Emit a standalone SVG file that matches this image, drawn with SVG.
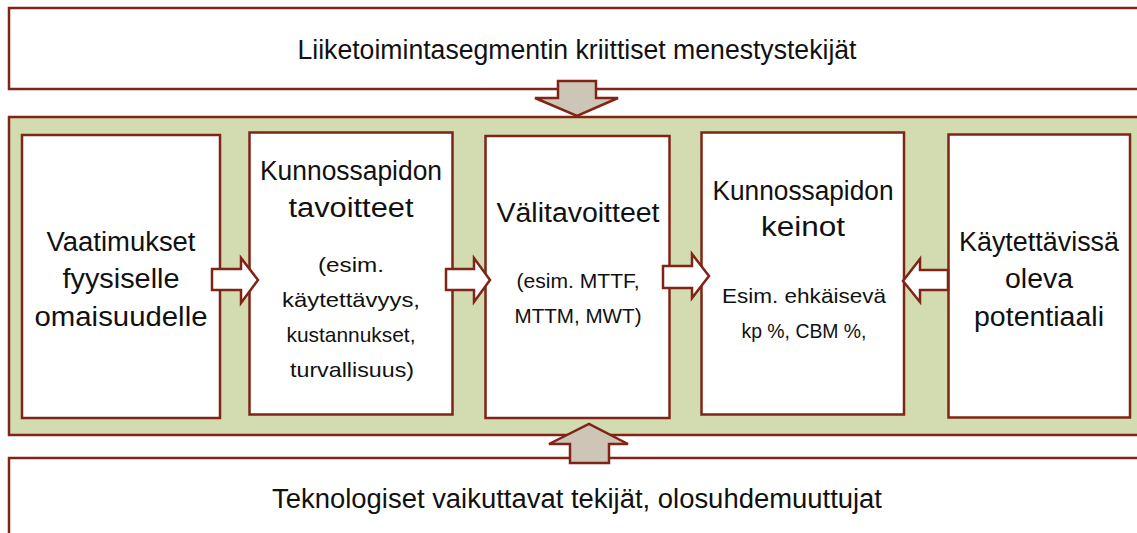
<svg xmlns="http://www.w3.org/2000/svg" width="1137" height="533" viewBox="0 0 1137 533">
  <style>
    .frame { fill: #ffffff; stroke: #7f2416; stroke-width: 2.5; }
    .band { fill: #d2dcb0; stroke: #7f2416; stroke-width: 2.5; }
    .node { fill: #ffffff; stroke: #7f2416; stroke-width: 2.5; }
    .flow { fill: #ffffff; stroke: #7f2416; stroke-width: 2.5; stroke-linejoin: miter; }
    .block { fill: #cdc6b6; stroke: #7f2416; stroke-width: 2.5; stroke-linejoin: miter; }
    text { font-family: "Liberation Sans", Arial, sans-serif; fill: #111111; text-anchor: middle; }
    .big { font-size: 27px; }
    .small { font-size: 21px; }
  </style>

  <!-- outer bands -->
  <g id="success-factors">
    <rect class="frame" x="9" y="8" width="1140" height="81"/>
    <text class="big" x="577" y="59" textLength="559" lengthAdjust="spacingAndGlyphs">Liiketoimintasegmentin kriittiset menestystekijät</text>
  </g>
  <g id="process-band">
    <rect class="band" x="9" y="117" width="1140" height="318"/>
  </g>
  <g id="technology-factors">
    <rect class="frame" x="9" y="458" width="1140" height="100"/>
    <text class="big" x="577" y="508" textLength="610" lengthAdjust="spacingAndGlyphs">Teknologiset vaikuttavat tekijät, olosuhdemuuttujat</text>
  </g>

  <!-- process nodes -->
  <g id="requirements">
    <rect class="node" x="22" y="135" width="198" height="283"/>
    <text class="big" x="121" y="251" textLength="149" lengthAdjust="spacingAndGlyphs">Vaatimukset</text>
    <text class="big" x="121" y="288" textLength="117" lengthAdjust="spacingAndGlyphs">fyysiselle</text>
    <text class="big" x="121" y="326" textLength="173" lengthAdjust="spacingAndGlyphs">omaisuudelle</text>
  </g>
  <g id="maintenance-goals">
    <rect class="node" x="249.5" y="132.5" width="203" height="282"/>
    <text class="big" x="351" y="180" textLength="182" lengthAdjust="spacingAndGlyphs">Kunnossapidon</text>
    <text class="big" x="351" y="217" textLength="125" lengthAdjust="spacingAndGlyphs">tavoitteet</text>
    <text class="small" x="351" y="272" textLength="66" lengthAdjust="spacingAndGlyphs">(esim.</text>
    <text class="small" x="351" y="307" textLength="138" lengthAdjust="spacingAndGlyphs">käytettävyys,</text>
    <text class="small" x="351" y="342" textLength="129" lengthAdjust="spacingAndGlyphs">kustannukset,</text>
    <text class="small" x="352" y="377" textLength="124" lengthAdjust="spacingAndGlyphs">turvallisuus)</text>
  </g>
  <g id="intermediate-goals">
    <rect class="node" x="485.5" y="136" width="184" height="282"/>
    <text class="big" x="578" y="222" textLength="163" lengthAdjust="spacingAndGlyphs">Välitavoitteet</text>
    <text class="small" x="578" y="288" textLength="123" lengthAdjust="spacingAndGlyphs">(esim. MTTF,</text>
    <text class="small" x="578" y="323" textLength="127" lengthAdjust="spacingAndGlyphs">MTTM, MWT)</text>
  </g>
  <g id="maintenance-means">
    <rect class="node" x="701.5" y="132.5" width="202.5" height="282"/>
    <text class="big" x="803" y="200" textLength="181" lengthAdjust="spacingAndGlyphs">Kunnossapidon</text>
    <text class="big" x="803" y="236" textLength="84" lengthAdjust="spacingAndGlyphs">keinot</text>
    <text class="small" x="804" y="303" textLength="164" lengthAdjust="spacingAndGlyphs">Esim. ehkäisevä</text>
    <text class="small" x="804" y="338" textLength="125" lengthAdjust="spacingAndGlyphs">kp %, CBM %,</text>
  </g>
  <g id="available-potential">
    <rect class="node" x="948.5" y="134.5" width="181.5" height="283"/>
    <text class="big" x="1039" y="251" textLength="160" lengthAdjust="spacingAndGlyphs">Käytettävissä</text>
    <text class="big" x="1039" y="288" textLength="68" lengthAdjust="spacingAndGlyphs">oleva</text>
    <text class="big" x="1039" y="326" textLength="130" lengthAdjust="spacingAndGlyphs">potentiaali</text>
  </g>

  <!-- connectors -->
  <g id="connectors">
    <polygon class="block" points="558,81 596,81 596,98 618,98 577,116 535,98 558,98"/>
    <polygon class="block" points="570,463 609,463 609,444 628,444 589,424 549,444 570,444"/>
    <polygon class="flow" points="212,269 241,269 241,258 258,280 241,303 241,290 212,290"/>
    <polygon class="flow" points="446,269 474,269 474,258 490,280 474,302 474,290 446,290"/>
    <polygon class="flow" points="663,266 692,266 692,254 709,276 692,298 692,288 663,288"/>
    <polygon class="flow" points="948,270 920,270 920,259 903,281 920,302 920,290 948,290"/>
  </g>
</svg>
